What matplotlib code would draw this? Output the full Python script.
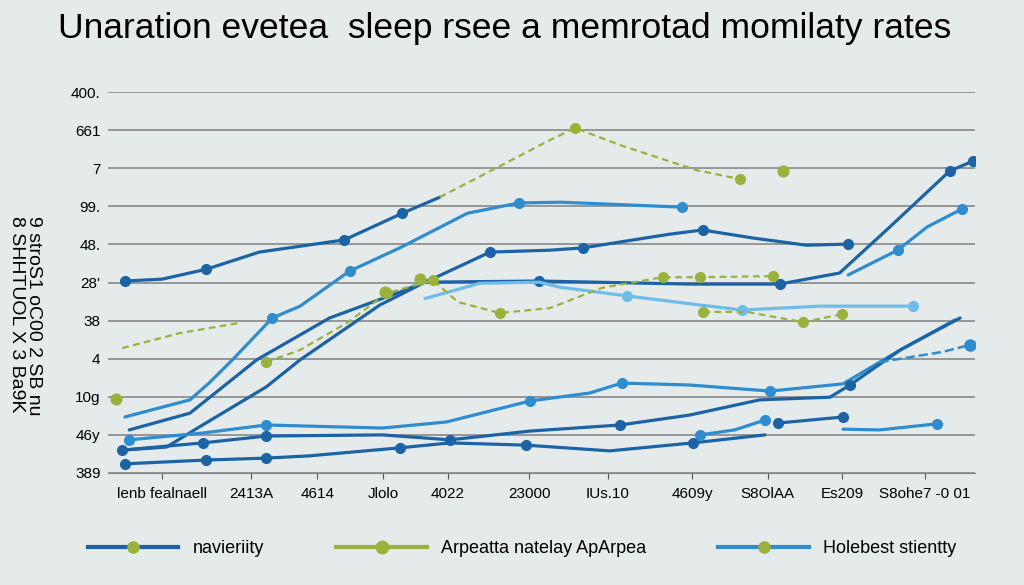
import matplotlib
matplotlib.use("Agg")
import matplotlib.pyplot as plt
from matplotlib.lines import Line2D

# chart values (x 0..100, y in grid steps 0..10)
title = "Unaration evetea  sleep rsee a memrotad momilaty rates"
ylabel_lines = "9 stroS1 oC00 2 SB nu\n8 SHHTUOL X 3 Ba9K"
ytick_labels = ["389", "46y", "10g", "4", "38", "28'", "48.", "99.", "7", "661", "400."]
xtick_pos = [6.3, 16.6, 24.2, 31.8, 39.2, 48.6, 57.7, 67.4, 76.1, 84.7, 94.2]
xtick_labels = ["lenb fealnaell", "2413A", "4614", "Jlolo", "4022", "23000",
                "IUs.10", "4609y", "S8OlAA", "Es209", "S8ohe7 -0 01"]
legend_labels = ["navieriity", "Arpeatta natelay ApArpea", "Holebest stientty"]

top_x = [2.0, 6.3, 11.4, 17.5, 27.3, 34.0, 38.3]
top_y = [5.04, 5.09, 5.35, 5.80, 6.12, 6.82, 7.24]

peak_x = [38.3, 45.0, 51.0, 53.9, 59.1, 67.9, 72.9]
peak_y = [7.24, 8.03, 8.74, 9.06, 8.61, 7.95, 7.72]

rise_x = [2.0, 9.5, 11.7, 14.4, 19.0, 22.2, 27.9, 33.7, 41.5, 47.4, 52.3, 66.2]
rise_y = [1.47, 1.92, 2.36, 2.97, 4.07, 4.38, 5.30, 5.91, 6.82, 7.09, 7.11, 6.98]

mid_x = [2.5, 9.5, 17.2, 25.6, 33.7, 37.7, 44.1, 51.0, 54.8, 64.8, 68.6, 74.4, 80.6, 85.4]
mid_y = [1.13, 1.57, 2.97, 4.07, 4.75, 5.12, 5.80, 5.85, 5.91, 6.27, 6.38, 6.17, 5.98, 6.01]

long_x = [1.7, 6.8, 10.6, 18.3, 22.2, 31.4, 36.6, 49.8, 67.1, 77.5, 84.4, 90.2, 97.1, 99.8]
long_y = [0.60, 0.68, 1.21, 2.26, 2.97, 4.41, 5.01, 5.04, 4.96, 4.96, 5.25, 6.46, 7.93, 8.19]

right_x = [85.4, 91.1, 94.5, 98.5]
right_y = [5.20, 5.85, 6.46, 6.93]

fall_x = [36.6, 42.9, 49.8, 52.1, 59.9, 68.3, 73.2, 82.1, 92.9]
fall_y = [4.58, 4.98, 5.01, 4.88, 4.65, 4.41, 4.28, 4.38, 4.38]

gleft_x = [1.7, 8.3, 15.2]
gleft_y = [3.28, 3.67, 3.94]

gmid_x = [18.3, 22.2, 27.6, 32.2, 37.5, 40.4, 45.2, 51.0, 57.0, 64.0, 68.3, 76.7]
gmid_y = [2.91, 3.23, 3.94, 4.72, 5.06, 4.49, 4.20, 4.33, 4.86, 5.14, 5.14, 5.17]

gright_x = [68.7, 73.7, 80.2, 84.7]
gright_y = [4.23, 4.23, 3.96, 4.17]

low1_x = [2.5, 11.0, 18.3, 31.7, 39.1, 48.7, 55.6, 59.3, 67.1, 76.4, 84.8, 91.4, 97.7]
low1_y = [0.87, 1.05, 1.26, 1.18, 1.34, 1.89, 2.10, 2.36, 2.31, 2.15, 2.34, 3.23, 4.02]

low2_x = [1.7, 11.0, 18.3, 31.7, 39.5, 48.7, 59.1, 67.1, 75.2, 83.3, 85.6, 91.4, 98.3]
low2_y = [0.60, 0.79, 0.97, 1.00, 0.87, 1.10, 1.26, 1.52, 1.92, 1.99, 2.31, 3.23, 4.07]

low3_x = [2.0, 11.4, 18.3, 23.3, 33.7, 39.5, 48.3, 57.9, 67.5, 75.8]
low3_y = [0.24, 0.34, 0.39, 0.45, 0.66, 0.79, 0.73, 0.58, 0.79, 1.00]

frag_a_x = [68.3, 72.3, 75.8]
frag_a_y = [1.00, 1.13, 1.39]
frag_b_x = [77.3, 84.8]
frag_b_y = [1.31, 1.47]
frag_c_x = [84.8, 89.0, 95.6]
frag_c_y = [1.15, 1.13, 1.29]
tail_x = [89.0, 96.3, 99.4]
tail_y = [2.91, 3.18, 3.36]

dots_green_x = [77.9, 1.0, 36.0, 32.0]
dots_green_y = [7.93, 1.95, 5.10, 4.75]

DARK = "#1c63a6"
MID = "#2f8ccf"
LIGHT = "#6fbce9"
GREEN = "#9ab23c"
BG = "#e5ebea"

plt.rcParams['font.family'] = ['Liberation Sans Narrow', 'Liberation Sans', 'DejaVu Sans']

fig = plt.figure(figsize=(10.24, 5.85), dpi=100, facecolor=BG)
ax = fig.add_axes([0.105, 0.1915, 0.847, 0.651])
ax.set_facecolor(BG)

def solid(x, y, c, every=None, lw=2.3):
    ax.plot(x, y, color=c, lw=lw, marker="o", ms=7, markevery=every,
            solid_capstyle="round", zorder=3)

def dashed(x, y, every=None):
    ax.plot(x, y, color=GREEN, lw=1.6, ls=(0, (3, 2)), marker="o", ms=7,
            markevery=every, zorder=4)

solid(top_x, top_y, DARK, [0, 2, 4, 5])
dashed(peak_x, peak_y, [3, 6])
solid(rise_x, rise_y, MID, [4, 6, 9, 11])
solid(mid_x, mid_y, DARK, [6, 8, 10, 13])
solid(long_x, long_y, DARK, [7, 9, 12, 13])
solid(right_x, right_y, MID, [1, 3])
solid(fall_x, fall_y, LIGHT, [4, 6, 8])
dashed(gleft_x, gleft_y, [])
dashed(gmid_x, gmid_y, [0, 3, 4, 6, 9, 10, 11])
dashed(gright_x, gright_y, [0, 2, 3])
solid(low1_x, low1_y, MID, [0, 2, 5, 7, 9])
solid(low2_x, low2_y, DARK, [0, 1, 2, 4, 6, 10])
solid(low3_x, low3_y, DARK, [0, 1, 2, 4, 6, 8])
solid(frag_a_x, frag_a_y, MID, [0, 2])
solid(frag_b_x, frag_b_y, DARK, [0, 1])
solid(frag_c_x, frag_c_y, MID, [2])
ax.plot(tail_x, tail_y, color=MID, lw=1.8, ls="--", marker="o", ms=8,
        markevery=[2], zorder=3)
ax.scatter(dots_green_x, dots_green_y, s=60, color=GREEN, zorder=5, clip_on=False)

ax.set_xlim(0, 100)
ax.set_ylim(0, 10)
ax.set_yticks(range(11))
ax.set_yticklabels(ytick_labels, fontsize=11)
ax.set_xticks(xtick_pos)
ax.set_xticklabels(xtick_labels, fontsize=11)
ax.tick_params(axis="x", length=4, color="#555555", pad=6)
ax.tick_params(axis="y", length=0, pad=5)
ax.grid(axis="y", color="#808080", lw=1.1, zorder=1)
for s in ["top", "right", "left"]:
    ax.spines[s].set_visible(False)
ax.spines["bottom"].set_color("#808080")

fig.text(0.008, 0.46, ylabel_lines, rotation=-90, fontsize=14,
         ha="left", va="center", linespacing=1.0)
fig.text(0.493, 0.952, title, fontsize=25.5, ha="center", va="center")

handles = [
    Line2D([0], [0], color=DARK, lw=3, marker="o", ms=8, mfc=GREEN, mec=GREEN,
           markevery=[1]),
    Line2D([0], [0], color=GREEN, lw=3, marker="o", ms=9, mfc=GREEN, mec=GREEN),
    Line2D([0], [0], color=MID, lw=3, marker="o", ms=8, mfc=GREEN, mec=GREEN,
           markevery=[0]),
]
fig.legend(handles, legend_labels, loc="center", bbox_to_anchor=(0.51, 0.062),
           ncol=3, frameon=False, fontsize=13, handlelength=5,
           columnspacing=4, handletextpad=0.8)

fig.savefig("out.png", dpi=100, facecolor=BG)
